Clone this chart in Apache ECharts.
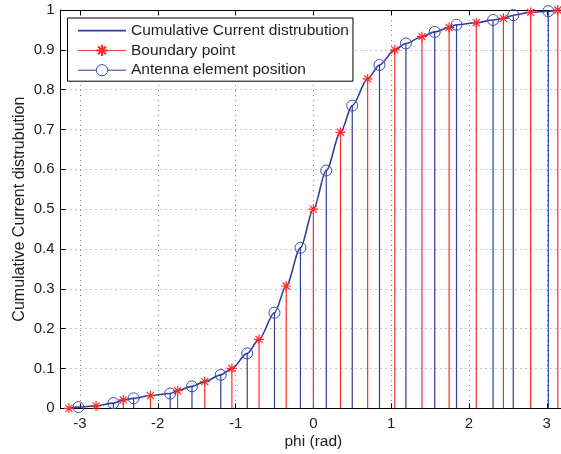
<!DOCTYPE html>
<html><head><meta charset="utf-8">
<script src="https://cdn.jsdelivr.net/npm/echarts@6/dist/echarts.min.js"></script>
<style>html,body{margin:0;padding:0;background:#fff}#c{width:561px;height:454px}</style>
</head><body><div id="c"></div>
<script>
// ---- data ----
const boundaryX = [-3.142,-2.793,-2.443,-2.094,-1.745,-1.396,-1.047,-0.698,-0.349,0,0.349,0.698,1.047,1.396,1.745,2.094,2.443,2.793,3.142];
const boundaryY = [0,0.006,0.021,0.032,0.044,0.067,0.1,0.173,0.307,0.5,0.693,0.827,0.9,0.933,0.956,0.968,0.979,0.994,1.0];
const elementX = [-3.02,-2.57,-2.31,-1.84,-1.56,-1.19,-0.85,-0.50,-0.166,0.166,0.50,0.85,1.19,1.56,1.84,2.31,2.57,3.02];
const elementY = [0.003,0.013,0.025,0.037,0.055,0.084,0.138,0.24,0.403,0.597,0.76,0.862,0.916,0.945,0.963,0.975,0.987,0.997];
const seriesNames = ['Cumulative Current distrubution','Boundary point','Antenna element position'];
const xAxisTitle = 'phi (rad)';
const yAxisTitle = 'Cumulative Current distrubution';

const FONT = '"Liberation Sans", Arial, Helvetica, sans-serif';
const TXT = '#1e1e1e';
const RED = '#ff2a2a';
const BLUE = '#2f3d9e';
const STAR = 'path://M0,-5L0,5M-5,0L5,0M-3.5,-3.5L3.5,3.5M-3.5,3.5L3.5,-3.5';

const boundaryPts = boundaryX.map((x, i) => [x, boundaryY[i]]);
const elementPts = elementX.map((x, i) => [x, elementY[i]]);
const curvePts = boundaryPts.concat(elementPts).sort((a, b) => a[0] - b[0]);

function stems(pts, color) {
  return {
    type: 'custom', silent: true, z: 1, animation: false,
    data: pts,
    renderItem(params, api) {
      const p0 = api.coord([api.value(0), 0]);
      const p1 = api.coord([api.value(0), api.value(1)]);
      return { type: 'line', shape: { x1: p0[0], y1: p0[1], x2: p1[0], y2: p1[1] },
               style: { stroke: color, lineWidth: 1.2 } };
    }
  };
}

const chart = echarts.init(document.getElementById('c'), null, { renderer: 'canvas' });
chart.setOption({
  animation: false,
  backgroundColor: '#fff',
  textStyle: { fontFamily: FONT },
  grid: { left: 60.5, top: 10, width: 505.7, height: 398.3, containLabel: false, outerBoundsMode: 'none' },
  legend: {
    orient: 'vertical', left: 67.5, top: 18,
    padding: [4.6, 4, 3, 10], itemWidth: 48, itemHeight: 14, itemGap: 3.8,
    borderColor: '#000', borderWidth: 1, backgroundColor: '#fff',
    textStyle: { fontFamily: FONT, fontSize: 15.5, color: TXT },
    selectedMode: false,
    data: [
      { name: seriesNames[0], icon: 'path://M0,0L48,0L48,1.6L0,1.6Z', itemStyle: { color: BLUE } },
      { name: seriesNames[1], lineStyle: { opacity: 1, width: 1, color: RED } },
      { name: seriesNames[2], lineStyle: { opacity: 1, width: 1, color: BLUE },
        itemStyle: { borderWidth: 1, borderColor: '#3a4ab4', color: '#fff' } }
    ]
  },
  xAxis: [{
    type: 'value', min: -3.25, max: 3.25, position: 'bottom',
    axisLine: { onZero: false, lineStyle: { color: '#000', width: 1 } },
    axisTick: { inside: true, length: 5, lineStyle: { color: '#000' } },
    axisLabel: { margin: 8, showMinLabel: false, showMaxLabel: false, fontSize: 15, color: TXT, fontFamily: FONT },
    splitLine: { show: true, lineStyle: { color: '#888', width: 1, type: [1, 4] } },
    name: xAxisTitle, nameLocation: 'middle', nameGap: 25, nameMoveOverlap: false,
    nameTextStyle: { fontSize: 15.5, color: TXT, fontFamily: FONT }
  }, {
    type: 'value', min: -3.25, max: 3.25, position: 'top',
    axisLine: { onZero: false, lineStyle: { color: '#000', width: 1 } },
    axisTick: { inside: true, length: 5, lineStyle: { color: '#000' } },
    axisLabel: { show: false }, splitLine: { show: false }
  }],
  yAxis: {
    type: 'value', min: 0, max: 1, interval: 0.1,
    axisLine: { onZero: false, show: true, lineStyle: { color: '#000', width: 1 } },
    axisTick: { show: true, inside: true, length: 5, lineStyle: { color: '#000' } },
    axisLabel: { margin: 6, fontSize: 15, color: TXT, fontFamily: FONT },
    splitLine: { show: true, lineStyle: { color: '#888', width: 1, type: [1, 4] } },
    name: yAxisTitle, nameLocation: 'middle', nameGap: 33, nameMoveOverlap: false,
    nameTextStyle: { fontSize: 16, color: TXT, fontFamily: FONT }
  },
  series: [
    stems(boundaryPts, RED),
    stems(elementPts, BLUE),
    {
      name: seriesNames[0], type: 'line', data: curvePts, z: 3,
      smooth: 0.3, smoothMonotone: 'x', symbol: 'none',
      lineStyle: { color: BLUE, width: 1.6 }, itemStyle: { color: BLUE },
      emphasis: { disabled: true }
    },
    {
      name: seriesNames[1], type: 'line', data: boundaryPts, z: 4,
      symbol: STAR, symbolSize: 10, showSymbol: true,
      lineStyle: { opacity: 0, width: 0, color: RED },
      itemStyle: { color: RED, borderColor: RED, borderWidth: 1.2 },
      emphasis: { disabled: true }
    },
    {
      name: seriesNames[2], type: 'line', data: elementPts, z: 4,
      symbol: 'circle', symbolSize: 11, showSymbol: true,
      lineStyle: { opacity: 0, width: 0, color: BLUE },
      itemStyle: { color: 'rgba(255,255,255,0)', borderColor: '#3a4ab4', borderWidth: 1 },
      emphasis: { disabled: true }
    }
  ]
});
</script></body></html>
